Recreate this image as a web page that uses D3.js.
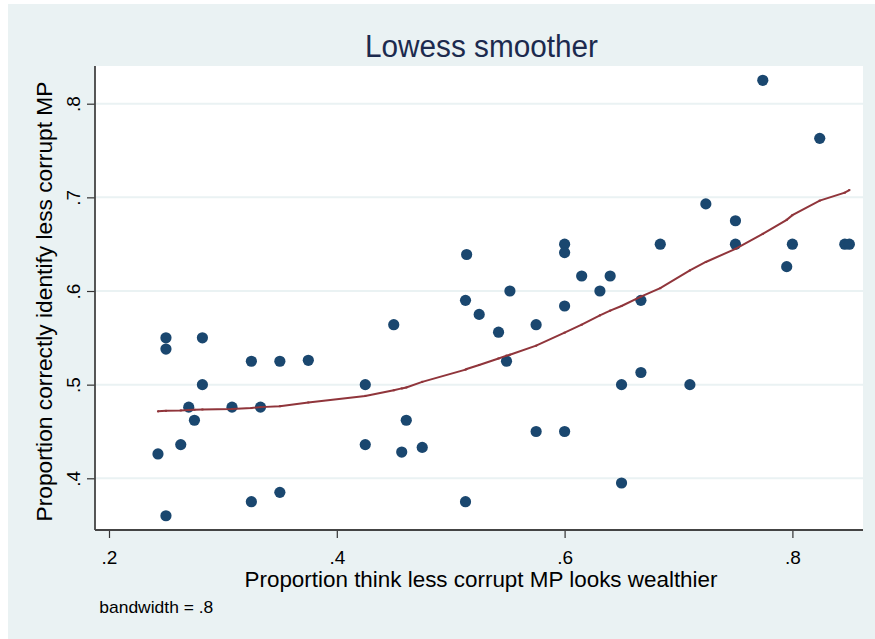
<!DOCTYPE html>
<html>
<head>
<meta charset="utf-8">
<script src="https://cdn.jsdelivr.net/npm/d3@7"></script>
<style>
  html, body { margin: 0; padding: 0; background: #ffffff; }
  svg { display: block; font-family: "Liberation Sans", Arial, sans-serif; }
</style>
</head>
<body>
<svg id="chart" width="875" height="639"></svg>
<script>
// ---- Data ----
const pointX = [0.243,0.25,0.25,0.25,0.263,0.270,0.275,0.282,0.282,0.308,
                0.325,0.325,0.333,0.35,0.35,0.375,0.425,0.425,0.45,0.457,
                0.461,0.475,0.513,0.513,0.514,0.525,0.542,0.549,0.552,0.575,
                0.575,0.6,0.6,0.6,0.6,0.615,0.631,0.64,0.65,0.65,
                0.667,0.667,0.684,0.71,0.724,0.75,0.75,0.774,0.795,0.8,
                0.824,0.846,0.85];
const pointY = [0.426,0.55,0.538,0.36,0.436,0.476,0.462,0.55,0.5,0.476,
                0.525,0.375,0.476,0.525,0.385,0.526,0.5,0.436,0.564,0.428,
                0.462,0.433,0.375,0.59,0.639,0.575,0.556,0.525,0.6,0.564,
                0.45,0.65,0.641,0.584,0.45,0.616,0.6,0.616,0.5,0.395,
                0.59,0.513,0.65,0.5,0.693,0.675,0.65,0.825,0.626,0.65,
                0.763,0.65,0.65];
const lowessX = [0.243,0.25,0.263,0.270,0.275,0.282,0.308,0.325,0.333,0.35,
                 0.375,0.425,0.45,0.457,0.461,0.475,0.513,0.514,0.525,0.542,
                 0.549,0.552,0.575,0.6,0.615,0.631,0.64,0.65,0.667,0.684,
                 0.71,0.724,0.75,0.774,0.795,0.8,0.824,0.846,0.85];
const lowessY = [0.4715,0.472,0.4725,0.473,0.4732,0.4735,0.474,0.475,0.476,0.477,
                 0.481,0.488,0.494,0.496,0.497,0.503,0.516,0.5167,0.521,0.528,
                 0.531,0.532,0.5416,0.5555,0.564,0.574,0.579,0.584,0.594,0.603,
                 0.622,0.631,0.645,0.661,0.676,0.681,0.6965,0.705,0.7078];
const xTicks = [0.2, 0.4, 0.6, 0.8];
const yTicks = [0.4, 0.5, 0.6, 0.7, 0.8];
const xTickLabels = [".2", ".4", ".6", ".8"];
const yTickLabels = [".4", ".5", ".6", ".7", ".8"];
const titleText = "Lowess smoother";
const xTitle = "Proportion think less corrupt MP looks wealthier";
const yTitle = "Proportion correctly identify less corrupt MP";
const noteText = "bandwidth = .8";

// ---- Layout ----
const svg = d3.select("#chart");
const bg = "#EAF2F3";
const plot = {left: 95, right: 863, top: 66, bottom: 530};

svg.append("rect").attr("x", 8).attr("y", 4).attr("width", 867).attr("height", 635).attr("fill", bg);
svg.append("rect").attr("x", plot.left).attr("y", plot.top)
   .attr("width", plot.right - plot.left).attr("height", plot.bottom - plot.top)
   .attr("fill", "#ffffff");

const x = d3.scaleLinear().domain([0.2, 0.8]).range([109, 792.4]);
const y = d3.scaleLinear().domain([0.4, 0.8]).range([478.3, 103.7]);

// grid
svg.append("g").selectAll("line").data(yTicks).join("line")
   .attr("x1", plot.left).attr("x2", plot.right)
   .attr("y1", d => y(d)).attr("y2", d => y(d))
   .attr("stroke", bg).attr("stroke-width", 2);

// y axis
const yAxis = d3.axisLeft(y).tickValues(yTicks).tickSize(8).tickPadding(8)
   .tickFormat((d, i) => yTickLabels[i]);
const gy = svg.append("g").attr("transform", `translate(${plot.left},0)`).call(yAxis);
gy.select(".domain").remove();
gy.selectAll(".tick line").attr("stroke", "#333").attr("stroke-width", 1.2);
gy.selectAll(".tick text")
  .attr("font-size", 19).attr("fill", "#000")
  .attr("font-family", '"Liberation Sans", Arial, sans-serif')
  .attr("text-anchor", "middle").attr("dy", null)
  .attr("x", null)
  .attr("transform", "translate(-15.5,0) rotate(-90)")
  .attr("y", 0);
svg.append("line").attr("x1", plot.left).attr("x2", plot.left)
   .attr("y1", plot.top).attr("y2", plot.bottom)
   .attr("stroke", "#444").attr("stroke-width", 1.8);

// x axis
const xAxis = d3.axisBottom(x).tickValues(xTicks).tickSize(8).tickPadding(12)
   .tickFormat((d, i) => xTickLabels[i]);
const gx = svg.append("g").attr("transform", `translate(0,${plot.bottom})`).call(xAxis);
gx.select(".domain").remove();
gx.selectAll(".tick line").attr("stroke", "#333").attr("stroke-width", 1.2);
gx.selectAll(".tick text").attr("font-size", 19).attr("fill", "#000")
  .attr("font-family", '"Liberation Sans", Arial, sans-serif')
  .attr("dy", null).attr("y", 34);
svg.append("line").attr("x1", plot.left).attr("x2", plot.right)
   .attr("y1", plot.bottom).attr("y2", plot.bottom)
   .attr("stroke", "#444").attr("stroke-width", 1.8);

// points
svg.append("g").selectAll("circle").data(pointX.map((v, i) => [v, pointY[i]])).join("circle")
   .attr("cx", d => x(d[0])).attr("cy", d => y(d[1])).attr("r", 5.6)
   .attr("fill", "#1a476f");

// lowess line
const lw = lowessX.map((v, i) => [v, lowessY[i]]);
svg.append("path").datum(lw)
   .attr("d", d3.line().x(d => x(d[0])).y(d => y(d[1])))
   .attr("fill", "none").attr("stroke", "#90353b").attr("stroke-width", 2);
svg.append("g").selectAll("rect").data(lw).join("rect")
   .attr("x", d => x(d[0]) - 1).attr("y", d => y(d[1]) - 1)
   .attr("width", 2).attr("height", 2).attr("fill", "#90353b");

// titles
svg.append("text").attr("x", 481.5).attr("y", 56.5).attr("text-anchor", "middle")
   .attr("font-size", 31).attr("fill", "#1c2a4e")
   .attr("textLength", 233).attr("lengthAdjust", "spacingAndGlyphs")
   .text(titleText);
svg.append("text").attr("x", 481).attr("y", 587).attr("text-anchor", "middle")
   .attr("font-size", 21.5).attr("fill", "#000")
   .attr("textLength", 473).attr("lengthAdjust", "spacingAndGlyphs")
   .text(xTitle);
svg.append("text").attr("transform", "translate(52,301.5) rotate(-90)")
   .attr("text-anchor", "middle")
   .attr("font-size", 22).attr("fill", "#000")
   .attr("textLength", 440).attr("lengthAdjust", "spacingAndGlyphs")
   .text(yTitle);
svg.append("text").attr("x", 99.3).attr("y", 613)
   .attr("font-size", 17).attr("fill", "#000")
   .attr("textLength", 114).attr("lengthAdjust", "spacingAndGlyphs")
   .text(noteText);
</script>
</body>
</html>
